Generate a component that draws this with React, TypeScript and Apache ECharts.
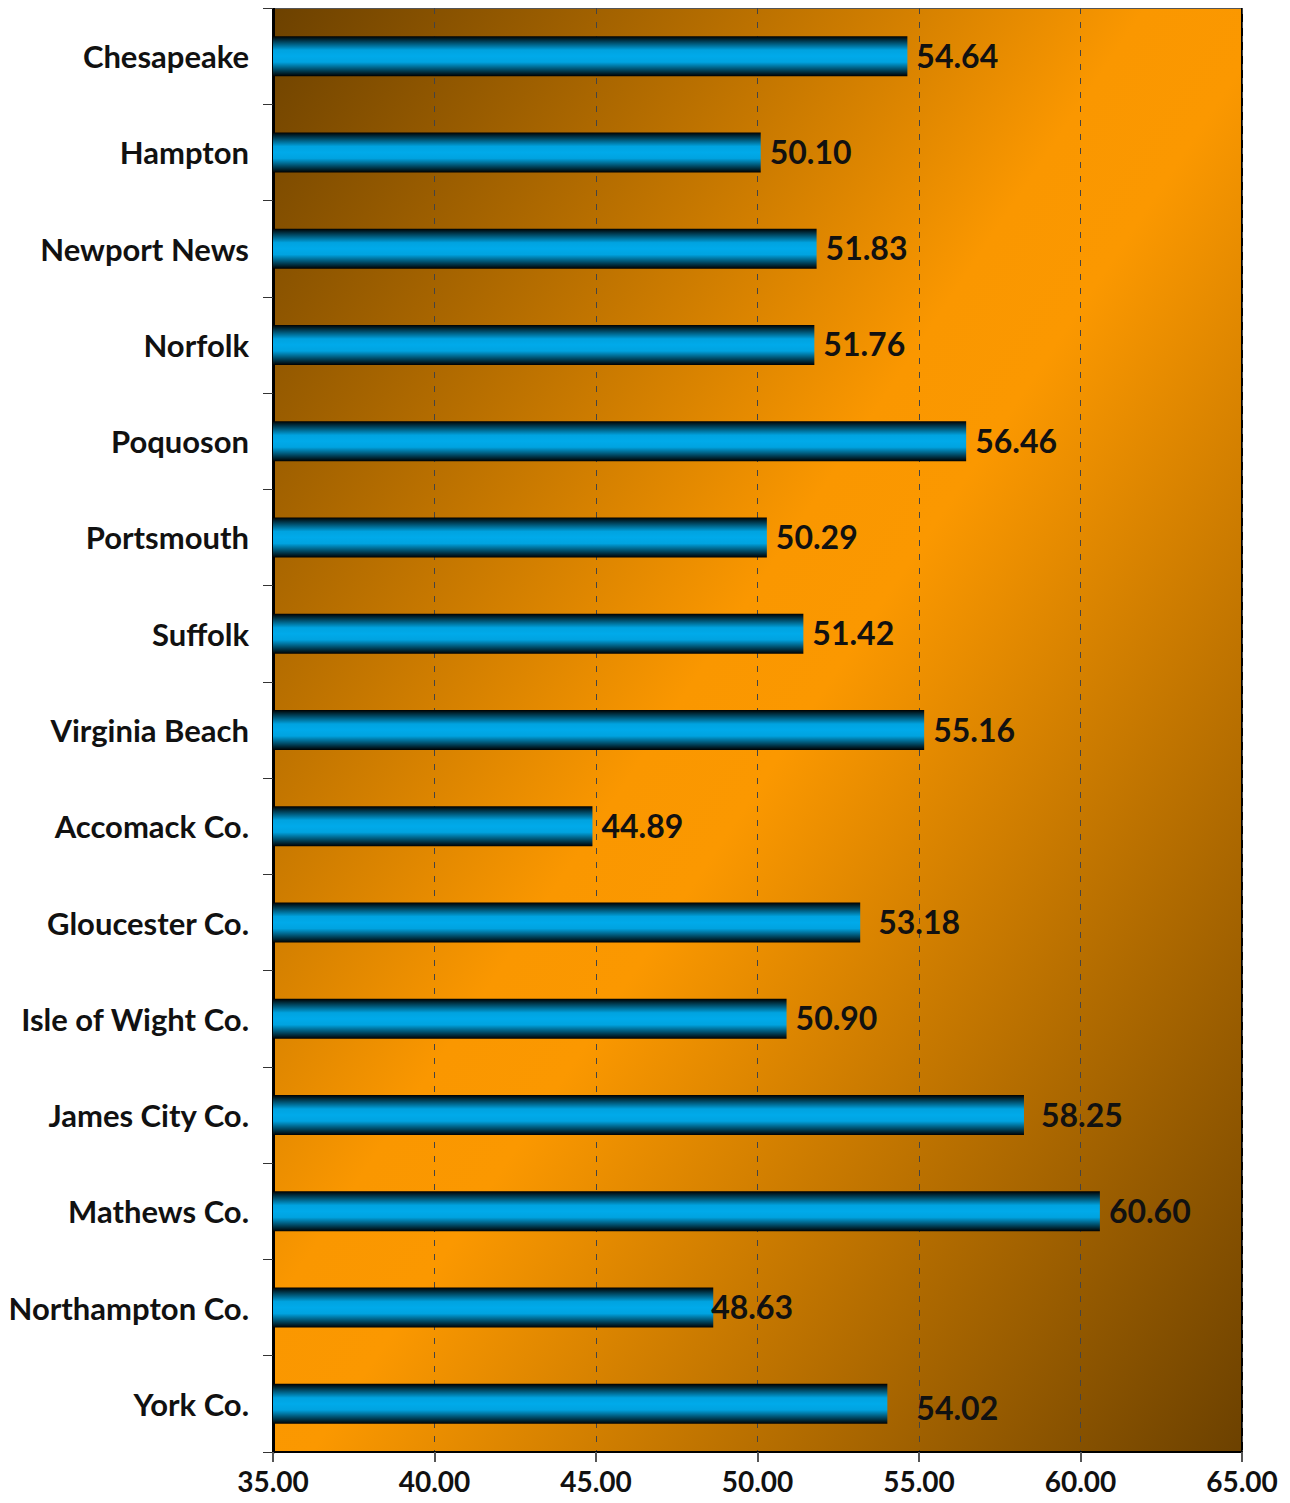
import React, { useEffect, useRef } from "react";
import * as echarts from "echarts";

const categories = [
  "Chesapeake",
  "Hampton",
  "Newport News",
  "Norfolk",
  "Poquoson",
  "Portsmouth",
  "Suffolk",
  "Virginia Beach",
  "Accomack Co.",
  "Gloucester Co.",
  "Isle of Wight Co.",
  "James City Co.",
  "Mathews Co.",
  "Northampton Co.",
  "York Co.",
];

const values = [
  54.64, 50.1, 51.83, 51.76, 56.46, 50.29, 51.42, 55.16, 44.89, 53.18, 50.9,
  58.25, 60.6, 48.63, 54.02,
];

// label nudges (x, y) in pixels, as placed in the reference
const labelNudges: [number, number][] = [
  [0, -1], [0, -1], [0, -1], [0, -1], [0, -1], [0, -1], [0, -1], [0, -1], [0, -1],
  [9, -1], [0, -1], [8, -1], [0, -1], [-11, -1], [20, 4],
];

const FONT = "Lato, 'DejaVu Sans', sans-serif";

export default function App() {
  const ref = useRef<HTMLDivElement>(null);
  useEffect(() => {
    if (!ref.current) return;
    const chart = echarts.init(ref.current, null, { renderer: "svg" });
    const barGradient = new echarts.graphic.LinearGradient(0, 0, 0, 1, [
      { offset: 0, color: "#000000" },
      { offset: 0.35, color: "#00a3e0" },
      { offset: 0.5, color: "#00aaea" },
      { offset: 0.65, color: "#00a3e0" },
      { offset: 1, color: "#000000" },
    ]);
    chart.setOption({
      animation: false,
      grid: {
        left: 273,
        right: 48,
        top: 8,
        bottom: 51,
        containLabel: false,
        show: true,
        borderWidth: 0,
        backgroundColor: new echarts.graphic.LinearGradient(0, 0, 1, 1, [
          { offset: 0, color: "#6c4100" },
          { offset: 0.45, color: "#fa9700" },
          { offset: 0.52, color: "#fb9800" },
          { offset: 1, color: "#6c4100" },
        ]),
      },
      xAxis: {
        type: "value",
        min: 35,
        max: 65,
        interval: 5,
        axisLine: { show: true, lineStyle: { color: "#000", width: 2 } },
        axisTick: { show: true, length: 10, lineStyle: { color: "#555", width: 2 } },
        axisLabel: {
          formatter: (v: number) => v.toFixed(2),
          fontSize: 28,
          fontWeight: "bold",
          fontFamily: FONT,
          color: "#111",
          margin: 15,
        },
        splitLine: {
          show: true,
          lineStyle: { color: "#444", type: [6, 8], width: 1 },
        },
      },
      yAxis: [
        {
          type: "category",
          data: categories,
          inverse: true,
          axisLine: { show: true, lineStyle: { color: "#000", width: 3 } },
          axisTick: { show: true, length: 10, lineStyle: { color: "#333", width: 1 } },
          axisLabel: {
            fontSize: 31,
            fontWeight: "bold",
            fontFamily: FONT,
            color: "#111",
            margin: 24,
          },
        },
      ],
      series: [
        {
          type: "bar",
          barWidth: 40,
          data: values.map((v, i) => ({
            value: v,
            label: {
              offset: labelNudges[i],
            },
          })),
          itemStyle: { color: barGradient },
          label: {
            show: true,
            position: "right",
            distance: 9,
            formatter: (p: any) => Number(p.value).toFixed(2),
            fontSize: 32,
            fontWeight: "bold",
            fontFamily: FONT,
            color: "#111",
          },
        },
      ],
      graphic: [
        {
          type: "line",
          shape: { x1: 273, y1: 8, x2: 1242, y2: 8 },
          style: { stroke: "#555", lineWidth: 2 },
        },
        {
          type: "line",
          shape: { x1: 1242, y1: 8, x2: 1242, y2: 1452 },
          style: { stroke: "#000", lineWidth: 2 },
        },
      ],
    });
    return () => chart.dispose();
  }, []);
  return <div ref={ref} style={{ width: 1290, height: 1503, margin: -8 }} />;
}
